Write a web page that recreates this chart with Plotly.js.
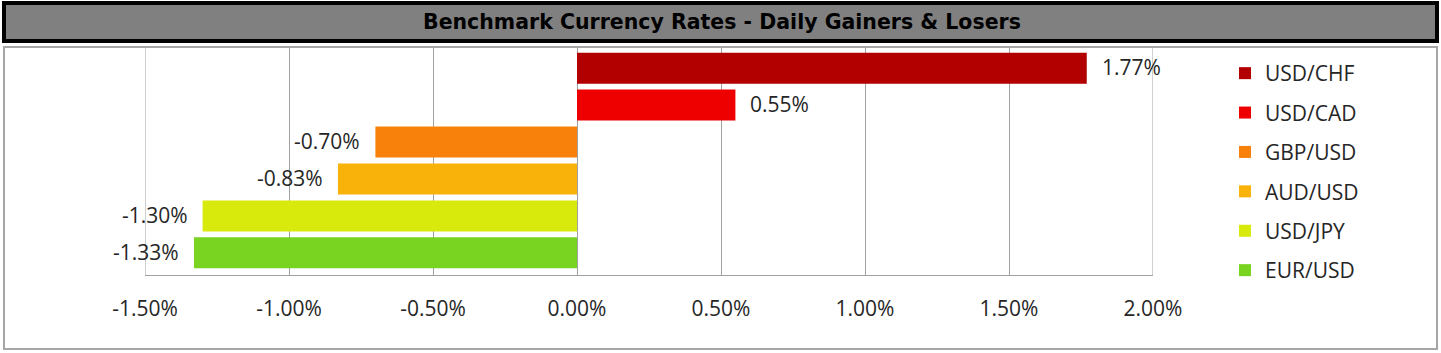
<!DOCTYPE html>
<html>
<head>
<meta charset="utf-8">
<script src="https://cdn.plot.ly/plotly-3.0.1.min.js"></script>
<style>
html,body{margin:0;padding:0;background:#fff;}
#chart{width:1441px;height:353px;}
</style>
</head>
<body>
<div id="chart"></div>
<script>
const pairs = ['USD/CHF', 'USD/CAD', 'GBP/USD', 'AUD/USD', 'USD/JPY', 'EUR/USD'];
const changes = [1.77, 0.55, -0.70, -0.83, -1.30, -1.33];
const barColors = ['#b20000', '#ee0000', '#f7810a', '#f9b20a', '#d7ea0b', '#79d321'];
const xTickVals = [-1.5, -1.0, -0.5, 0, 0.5, 1.0, 1.5, 2.0];
const xTickText = ['-1.50%', '-1.00%', '-0.50%', '0.00%', '0.50%', '1.00%', '1.50%', '2.00%'];
const chartTitle = 'Benchmark Currency Rates - Daily Gainers &amp; Losers';

const W = 1441, H = 353;
const px = v => v / W;
const py = v => 1 - v / H;
const FONT = '"Open Sans", "Liberation Sans", sans-serif';
const TXT = '#262626';
const GRID = '#a0a0a0';
const FS = 21;

const traces = pairs.map((p, i) => ({
  type: 'bar',
  orientation: 'h',
  x: [changes[i]],
  y: [p],
  name: p,
  legendgroup: p,
  width: 0.84,
  marker: {color: barColors[i], line: {width: 0}},
  hoverinfo: 'x+name'
}));

const labels = pairs.map((p, i) => ({
  x: changes[i],
  y: p,
  xref: 'x',
  yref: 'y',
  text: changes[i].toFixed(2) + '%',
  showarrow: false,
  xanchor: changes[i] >= 0 ? 'left' : 'right',
  xshift: changes[i] >= 0 ? 13 : -13,
  yshift: 1,
  font: {family: FONT, size: FS, color: TXT}
}));

labels.push({
  x: px(722), y: py(22), xref: 'paper', yref: 'paper',
  text: '<b>' + chartTitle + '</b>', showarrow: false,
  xanchor: 'center', yanchor: 'middle',
  font: {family: '"DejaVu Sans", sans-serif', size: 20.5, color: '#000'}
});

// edge gridlines at the axis range ends (Plotly hides those by default)
const xRange = [xTickVals[0], xTickVals[xTickVals.length - 1]];
const edgeGrid = xRange.map(v => ({
  type: 'line', xref: 'x', yref: 'y domain',
  x0: v, x1: v, y0: 0, y1: 1,
  line: {color: GRID, width: 1}, layer: 'below'
}));

const layout = {
  width: W, height: H,
  margin: {l: 0, r: 0, t: 0, b: 0},
  paper_bgcolor: '#ffffff',
  plot_bgcolor: 'rgba(0,0,0,0)',
  barmode: 'overlay',
  showlegend: true,
  font: {family: FONT, size: FS, color: TXT},
  xaxis: {
    domain: [px(145), px(1153)],
    range: xRange,
    tickvals: xTickVals,
    ticktext: xTickText,
    showgrid: true,
    gridcolor: GRID,
    gridwidth: 1,
    zeroline: true,
    zerolinecolor: GRID,
    zerolinewidth: 1,
    showline: true,
    linecolor: GRID,
    linewidth: 1,
    ticks: '',
    ticklabelstandoff: 15,
    tickfont: {family: FONT, size: FS, color: TXT},
    fixedrange: true
  },
  yaxis: {
    domain: [py(275), py(46)],
    type: 'category',
    categoryorder: 'array',
    categoryarray: pairs,
    range: [5.6, -0.6],
    showticklabels: false,
    showgrid: false,
    zeroline: false,
    showline: false,
    ticks: '',
    fixedrange: true
  },
  legend: {
    x: px(1225), y: py(53), xanchor: 'left', yanchor: 'top',
    traceorder: 'grouped',
    tracegroupgap: 9.1,
    font: {family: FONT, size: FS, color: TXT},
    bgcolor: 'rgba(0,0,0,0)',
    borderwidth: 0
  },
  shapes: [
    {type: 'rect', xref: 'paper', yref: 'paper',
     x0: px(4), x1: px(1437), y0: py(3), y1: py(41),
     fillcolor: '#808080', line: {color: '#000', width: 4}, layer: 'below'},
    {type: 'rect', xref: 'paper', yref: 'paper',
     x0: px(4), x1: px(1437), y0: py(47), y1: py(349),
     fillcolor: 'rgba(0,0,0,0)', line: {color: '#a6a6a6', width: 2}, layer: 'below'}
  ].concat(edgeGrid),
  annotations: labels,
  hovermode: 'closest'
};

Plotly.newPlot('chart', traces, layout, {displayModeBar: false, responsive: false});
</script>
</body>
</html>
